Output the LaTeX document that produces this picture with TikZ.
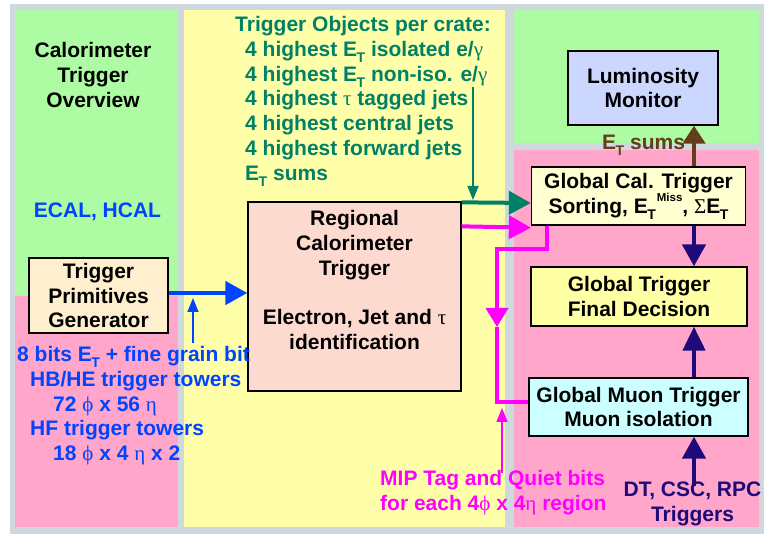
\documentclass[tikz,border=0pt]{standalone}
\usepackage{fontspec}
\setmainfont{Liberation Sans}
\newfontfamily\grfont{Liberation Serif}
\usepackage{tikz}
\usetikzlibrary{positioning,arrows.meta}

\definecolor{frame}{HTML}{CFD8DC}
\definecolor{leaf}{HTML}{ADFCA3}
\definecolor{rose}{HTML}{FFA6CA}
\definecolor{butter}{HTML}{FFFFAA}
\definecolor{peach}{HTML}{FFEFCF}
\definecolor{salmon}{HTML}{FDDACF}
\definecolor{lavender}{HTML}{CCD7FF}
\definecolor{cream}{HTML}{FFFFD2}
\definecolor{lemon}{HTML}{FFFFA6}
\definecolor{ice}{HTML}{CCFFFF}
\definecolor{ecalblue}{HTML}{0044FF}
\definecolor{crateteal}{HTML}{008066}
\definecolor{mipmag}{HTML}{FF00FF}
\definecolor{sumbrown}{HTML}{633E1C}
\definecolor{muonnavy}{HTML}{1E0A78}

\newcommand{\grsym}[1]{{\grfont\mdseries #1}}
\newcommand{\ET}{E\kern-0.5pt\raisebox{-6pt}{\fontsize{14}{14}\selectfont T}}
\newcommand{\ETmiss}{\ET\kern1pt\raisebox{11.5pt}{\fontsize{11.5}{11.5}\selectfont Miss}}

\tikzstyle{block}=[draw=black, line width=1.3pt, align=center, inner sep=0pt]
\tikzstyle{caption}=[align=center, inner sep=0pt]
\tikzstyle{listing}=[align=left, inner sep=0pt]
\tikzstyle{feed}=[line width=4.5pt, -{Triangle[length=22pt,width=23pt]}]
\tikzstyle{pointer}=[line width=1.5pt, -{Triangle[length=14pt,width=11pt]}]

\begin{document}
\begin{tikzpicture}[x=1pt, y=-1pt, font=\bfseries\fontsize{21}{24.8}\selectfont]

    \useasboundingbox (0,0) rectangle (764,534);

    % panels
    \fill[frame] (10,4) rectangle (764,534);
    \fill[leaf] (15,10) rectangle (178,295);
    \fill[rose] (15,296) rectangle (178,527);
    \fill[butter] (184,10) rectangle (505,527);
    \fill[leaf] (514,10) rectangle (759,143);
    \fill[rose] (514,150) rectangle (759,527);

    % blocks
    \node[block, fill=peach, minimum width=139pt, minimum height=75pt]
        (tpg) at (98.5,295.5) {Trigger\\Primitives\\Generator};
    \node[block, fill=salmon, minimum width=213pt, minimum height=189pt]
        (rct) at (354.5,296.5) {};
    \node[caption, anchor=north] (rcttext) at (rct.north |- 0,210)
        {Regional\\Calorimeter\\Trigger\\[24.8pt]Electron, Jet and \grsym{τ}\\identification};
    \node[block, fill=lavender, minimum width=150pt, minimum height=74pt]
        (lumi) at (643,88) {Luminosity\\Monitor};
    \node[block, fill=cream, minimum width=214pt, minimum height=58pt]
        (gct) at (638.5,196) {Global Cal. Trigger\\Sorting, \ETmiss, \grsym{Σ}\ET};
    \node[block, fill=lemon, minimum width=216pt, minimum height=59pt]
        (gtfd) at (639,296.5) {Global Trigger\\Final Decision};
    \node[block, fill=ice, minimum width=219pt, minimum height=58pt]
        (gmt) at (638.5,407) {Global Muon Trigger\\Muon isolation};

    % texts
    \node[caption, anchor=north] (title) at (93,42) {Calorimeter\\Trigger\\Overview};
    \node[caption, anchor=base, text=ecalblue] (ecal) at (97.5,218) {ECAL, HCAL};
    \node[listing, anchor=north west, text=ecalblue] (towers) at (17,346)
        {8 bits \ET\ + fine grain bit\\
         \hspace*{13pt}HB/HE trigger towers\\
         \hspace*{36pt}72 \grsym{ϕ} x 56 \grsym{η}\\
         \hspace*{13pt}HF trigger towers\\
         \hspace*{36pt}18 \grsym{ϕ} x 4 \grsym{η} x 2};
    \node[listing, anchor=north west, text=crateteal] (objects) at (235,16)
        {Trigger Objects per crate:\\
         \hspace*{10pt}4 highest \ET\ isolated e/\grsym{γ}\\
         \hspace*{10pt}4 highest \ET\ non-iso. e/\grsym{γ}\\
         \hspace*{10pt}4 highest \grsym{τ} tagged jets\\
         \hspace*{10pt}4 highest central jets\\
         \hspace*{10pt}4 highest forward jets\\
         \hspace*{10pt}\ET\ sums};
    \node[listing, anchor=north west, text=mipmag] (mip) at (380,470)
        {MIP Tag and Quiet bits\\for each 4\grsym{ϕ} x 4\grsym{η} region};
    \node[caption, anchor=north, text=muonnavy] (muons) at (692.5,482)
        {DT, CSC, RPC\\Triggers};
    \node[caption, anchor=base west, text=sumbrown] (sums) at (602,150) {\ET\ sums};

    % connector coordinates
    \coordinate (bus) at (694,0);
    \coordinate (towfoot) at (193,343);
    \coordinate (towtip) at (193,298);
    \coordinate (objfoot) at (473,87);
    \coordinate (objtip) at (473,200);
    \coordinate (mipfoot) at (502,473);
    \coordinate (miptip) at (502,408);
    \coordinate (mipturn) at (497,327);

    % arrows
    \draw[feed, ecalblue] ([yshift=2.5pt]tpg.east) -- ([yshift=3.5pt]rct.west);
    \draw[pointer, ecalblue] (towfoot) -- (towtip);
    \draw[pointer, crateteal] (objfoot) -- (objtip);
    \draw[feed, crateteal, line width=4pt] ([yshift=-1pt]rct.north east) -- ([yshift=-7pt]gct.west);
    \draw[feed, mipmag, line width=4pt] ([yshift=-25pt]rct.north east) -- ([yshift=-2pt]gct.south west);
    \draw[feed, mipmag, line width=4pt, -{Triangle[length=19pt,width=22pt]}]
        ([xshift=16pt]gct.south west) -- ++(0,23) -| (mipturn);
    \draw[mipmag, line width=4pt] (mipturn) |- ([yshift=5pt]gmt.west);
    \draw[pointer, mipmag] (mipfoot) -- (miptip);
    \draw[feed, sumbrown, -{Triangle[length=18pt,width=22pt]}] (gct.north -| bus) -- (lumi.south -| bus);
    \draw[feed, muonnavy] (gct.south -| bus) -- (gtfd.north -| bus);
    \draw[feed, muonnavy, -{Triangle[length=24pt,width=22pt]}] (gmt.north -| bus) -- (gtfd.south -| bus);
    \draw[feed, muonnavy] ([yshift=-4pt]muons.north -| bus) -- (gmt.south -| bus);

\end{tikzpicture}
\end{document}
